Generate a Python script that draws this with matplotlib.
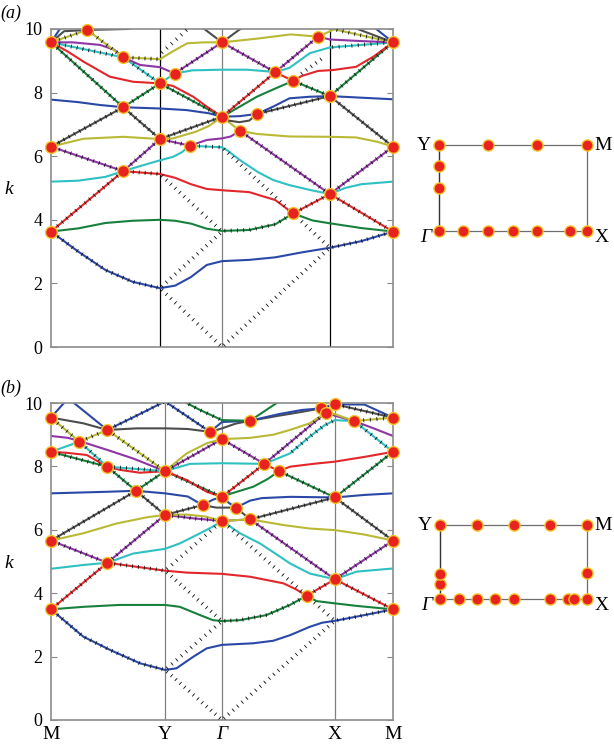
import numpy as np
import matplotlib.pyplot as plt
from matplotlib.patheffects import TickedStroke

plt.rcParams['font.family'] = ['Liberation Serif', 'DejaVu Serif']

# -----------------------------
# Data
# -----------------------------
# symmetry points along M-Y-Gamma-X-M (path units, M-Y = 1)
ka_sym = [0, 1.0, 1.57, 2.56, 3.14]
kb_sym = [0, 1.0, 1.5, 2.49, 3.0]
sym_labels = ['M', 'Y', 'Γ', 'X', 'M']

# panel (a) bands, lowest first: (k, frequency)
a1 = [(0, 3.63), (0.25, 3.0), (0.5, 2.42), (0.75, 2.05), (1.0, 1.85), (1.14, 1.93), (1.285, 2.2),
      (1.43, 2.58), (1.57, 2.70), (1.82, 2.74), (2.06, 2.82), (2.31, 2.98), (2.56, 3.12), (2.85, 3.33), (3.14, 3.63)]
a2 = [(0, 3.63), (0.25, 3.73), (0.5, 3.9), (0.75, 3.97), (1.0, 4.0), (1.14, 3.97), (1.285, 3.88), (1.43, 3.72),
      (1.57, 3.65), (1.82, 3.68), (2.06, 3.86), (2.223, 4.2), (2.4, 3.98), (2.56, 3.89), (2.85, 3.74), (3.14, 3.63)]
a3 = [(0, 3.63), (0.663, 5.53), (1.0, 5.44), (1.14, 5.32), (1.285, 5.12), (1.43, 4.97), (1.57, 4.93),
      (1.82, 4.87), (2.06, 4.62), (2.223, 4.2), (2.56, 4.81), (3.14, 3.63)]
a4 = [(0, 5.2), (0.25, 5.23), (0.5, 5.35), (0.663, 5.53), (0.83, 5.7), (1.0, 5.87), (1.12, 5.98), (1.2, 6.12),
      (1.275, 6.33), (1.57, 6.28), (1.62, 6.18), (1.734, 5.88), (1.9, 5.5), (2.04, 5.25), (2.19, 5.09),
      (2.376, 4.94), (2.56, 4.81), (2.7, 5.0), (2.85, 5.12), (3.14, 5.2)]
a5 = [(0, 6.3), (0.663, 5.53), (1.0, 6.54), (1.275, 6.33), (1.43, 6.51), (1.57, 6.56), (1.65, 6.62),
      (1.734, 6.8), (2.56, 4.81), (3.14, 6.3)]
a6 = [(0, 6.3), (0.3, 6.55), (0.663, 6.61), (1.0, 6.54), (1.12, 6.56), (1.33, 6.77), (1.45, 6.95), (1.57, 7.24),
      (1.734, 6.8), (1.89, 6.7), (2.19, 6.62), (2.56, 6.61), (2.8, 6.59), (3.0, 6.45), (3.14, 6.3)]
a7 = [(0, 6.3), (0.663, 7.54), (1.0, 6.54), (1.57, 7.24), (1.63, 7.12), (1.73, 7.07), (1.82, 7.12),
      (1.893, 7.33), (2.56, 7.89), (3.14, 6.3)]
a8 = [(0, 7.78), (0.25, 7.7), (0.45, 7.61), (0.663, 7.54), (1.0, 7.5), (1.245, 7.45), (1.45, 7.35), (1.57, 7.24),
      (1.734, 7.26), (1.893, 7.33), (2.04, 7.56), (2.19, 7.82), (2.376, 7.87), (2.56, 7.89), (2.85, 7.84), (3.14, 7.79)]
a9 = [(0, 9.58), (0.663, 7.54), (1.0, 8.29), (1.57, 7.24), (1.734, 7.56), (1.89, 7.87), (2.06, 8.13),
      (2.223, 8.37), (2.56, 7.89), (3.14, 9.58)]
a10 = [(0, 9.58), (0.15, 9.3), (0.3, 8.97), (0.54, 8.5), (0.755, 8.34), (1.0, 8.29), (1.12, 8.21), (1.306, 7.87),
       (1.43, 7.56), (1.57, 7.24), (2.058, 8.64), (2.223, 8.37), (2.3, 8.52), (2.45, 8.68), (2.59, 8.71),
       (2.8, 8.81), (2.96, 9.13), (3.14, 9.58)]
a11 = [(0, 9.58), (0.663, 9.11), (1.0, 8.29), (1.135, 8.6), (1.3, 8.7), (1.57, 8.72), (1.8, 8.72), (1.95, 8.68),
       (2.058, 8.64), (2.19, 8.78), (2.376, 9.24), (2.56, 9.42), (3.14, 9.58)]
a12 = [(0, 9.58), (0.2, 9.58), (0.45, 9.5), (0.58, 9.35), (0.663, 9.11), (0.817, 8.87), (1.0, 8.8), (1.135, 8.6),
       (1.57, 9.58), (2.058, 8.64), (2.452, 9.76), (2.56, 9.67), (2.85, 9.62), (3.14, 9.58)]
a13 = [(0, 9.58), (0.333, 9.97), (0.663, 9.11), (1.0, 9.05), (1.12, 9.3), (1.25, 9.55), (1.4, 9.58), (1.57, 9.58),
       (1.9, 9.7), (2.2, 9.83), (2.452, 9.76), (2.6, 9.99), (3.14, 9.58)]
a14 = [(0, 9.58), (0.12, 9.93), (0.333, 9.97), (0.7, 10.0), (1.0, 10.2), (1.4, 10.02), (1.57, 9.58),
       (1.73, 9.98), (1.9, 10.3), (2.5, 10.4), (2.8, 10.02), (3.14, 9.58)]
a15 = [(0, 9.58), (0.1, 10.1), (1.5, 10.6), (2.95, 10.1), (3.14, 9.58)]

# panel (b) bands
b1 = [(0, 3.49), (0.283, 2.63), (0.518, 2.21), (0.78, 1.79), (1.0, 1.58), (1.1, 1.63), (1.25, 2.0), (1.366, 2.26),
      (1.5, 2.37), (1.775, 2.42), (1.95, 2.5), (2.1, 2.68), (2.27, 2.94), (2.38, 3.07), (2.49, 3.13), (2.68, 3.26), (3.0, 3.49)]
b2 = [(0, 3.49), (0.283, 3.57), (0.6, 3.63), (1.0, 3.63), (1.13, 3.57), (1.307, 3.31), (1.42, 3.15), (1.5, 3.12),
      (1.658, 3.15), (1.89, 3.31), (2.096, 3.63), (2.243, 3.92), (2.33, 3.75), (2.49, 3.68), (2.68, 3.6), (3.0, 3.49)]
b3 = [(0, 3.49), (0.494, 4.96), (1.0, 4.71), (1.19, 4.65), (1.5, 4.61), (1.746, 4.52), (2.04, 4.31),
      (2.15, 4.12), (2.243, 3.92), (2.49, 4.44), (3.0, 3.49)]
b4 = [(0, 4.77), (0.283, 4.89), (0.494, 4.96), (0.72, 5.25), (1.0, 5.4), (1.13, 5.57), (1.307, 5.89), (1.42, 6.1),
      (1.5, 6.28), (1.658, 5.89), (1.833, 5.57), (2.01, 5.15), (2.096, 4.94), (2.27, 4.62), (2.49, 4.44),
      (2.68, 4.68), (3.0, 4.78)]
b5 = [(0, 5.66), (0.494, 4.96), (1.0, 6.47), (1.25, 6.36), (1.5, 6.28), (1.746, 6.33), (2.49, 4.44), (3.0, 5.66)]
b6 = [(0, 5.66), (0.283, 5.89), (0.576, 6.2), (0.85, 6.4), (1.0, 6.47), (1.19, 6.48), (1.35, 6.42), (1.5, 6.28),
      (1.6, 6.3), (1.746, 6.33), (2.04, 6.15), (2.27, 6.04), (2.49, 5.99), (2.75, 5.85), (3.0, 5.66)]
b7 = [(0, 5.66), (0.746, 7.23), (1.0, 6.47), (1.33, 6.78), (1.45, 6.7), (1.623, 6.7), (1.746, 6.33),
      (2.49, 7.02), (3.0, 5.66)]
b8 = [(0, 7.15), (0.494, 7.2), (0.746, 7.23), (1.0, 7.15), (1.2, 7.05), (1.33, 6.78), (1.42, 6.95), (1.5, 7.04),
      (1.56, 6.85), (1.623, 6.7), (1.746, 6.92), (1.85, 7.0), (2.1, 7.04), (2.49, 7.02), (2.75, 7.1), (3.0, 7.15)]
b9 = [(0, 8.46), (0.494, 7.99), (0.746, 7.23), (1.0, 7.85), (1.5, 7.04), (1.54, 7.1), (1.775, 7.36), (1.9, 7.6),
      (2.0, 7.85), (2.49, 7.02), (3.0, 8.46)]
b10 = [(0, 8.46), (0.137, 8.43), (0.313, 8.36), (0.494, 7.99), (0.605, 7.89), (0.78, 7.8), (1.0, 7.85),
       (1.19, 7.57), (1.366, 7.2), (1.5, 7.04), (1.871, 8.08), (2.0, 7.85), (2.096, 7.99), (2.3, 8.08),
       (2.49, 8.15), (2.75, 8.3), (3.0, 8.46)]
b11 = [(0, 8.46), (0.249, 8.78), (0.494, 7.99), (1.0, 7.85), (1.22, 8.08), (1.5, 8.1), (1.871, 8.08),
       (2.096, 8.41), (2.27, 8.94), (2.4, 9.3), (2.49, 9.46), (2.66, 9.43), (3.0, 8.46)]
b12 = [(0, 8.96), (0.15, 8.9), (0.249, 8.8), (0.494, 8.52), (0.72, 8.25), (1.0, 7.85), (1.5, 8.86),
       (1.871, 8.08), (2.41, 9.69), (2.49, 9.6), (2.66, 9.43), (2.83, 9.2), (3.0, 8.96)]
b13 = [(0, 9.54), (0.249, 8.78), (0.494, 9.15), (1.0, 7.85), (1.19, 8.41), (1.366, 8.73), (1.5, 8.86),
       (1.746, 8.9), (1.95, 9.0), (2.096, 9.15), (2.27, 9.36), (2.41, 9.69), (2.49, 9.65), (2.66, 9.43), (3.0, 9.54)]
b14 = [(0, 9.54), (0.283, 9.36), (0.494, 9.15), (0.75, 9.2), (1.0, 9.2), (1.2, 9.18), (1.395, 9.09), (1.5, 9.2),
       (1.62, 9.35), (1.746, 9.44), (2.0, 9.6), (2.2, 9.72), (2.366, 9.83), (2.49, 9.96), (3.0, 9.54)]
b15 = [(0, 9.54), (0.15, 10.15), (0.494, 9.15), (0.75, 9.6), (1.0, 10.05), (1.395, 9.09), (1.5, 9.4),
       (1.746, 9.44), (2.0, 9.65), (2.2, 9.78), (2.366, 9.83), (2.49, 9.96), (2.75, 9.95), (3.0, 9.54)]
b16 = [(0.9, 10.6), (1.19, 10.0), (1.307, 9.78), (1.5, 9.46), (1.746, 9.44), (1.98, 10.0), (2.2, 10.4),
       (2.49, 10.05), (2.8, 10.1), (3.0, 10.3)]

# band segments lying on the folded light lines (band, k from, k to)
ticks_a = [(a1, 0, 1.0), (a1, 2.56, 3.14), (a2, 1.57, 2.223), (a3, 0, 1.0), (a3, 2.223, 3.14),
           (a4, 1.275, 1.57), (a5, 0, 1.275), (a5, 1.734, 3.14), (a7, 0, 1.57), (a7, 1.893, 3.14),
           (a9, 0, 1.57), (a9, 2.223, 3.14), (a10, 1.57, 2.058), (a11, 0, 1.0), (a11, 2.56, 3.14),
           (a12, 1.135, 2.452), (a13, 0, 1.0), (a13, 2.6, 3.14)]
ticks_b = [(b1, 0, 1.0), (b1, 2.49, 3.0), (b2, 1.5, 2.243), (b3, 0, 1.0), (b3, 2.243, 3.0),
           (b5, 0, 1.5), (b5, 1.746, 3.0), (b7, 0, 1.33), (b7, 1.746, 3.0), (b9, 0, 1.5), (b9, 2.0, 3.0),
           (b10, 1.5, 1.871), (b11, 0.249, 1.0), (b11, 2.096, 2.49), (b11, 2.66, 3.0), (b12, 1.0, 2.41),
           (b13, 0, 1.0), (b13, 2.66, 3.0), (b14, 2.49, 3.0), (b15, 0.494, 1.395), (b16, 1.19, 1.5)]

# free light-line pieces
light_a = [[(1.57, 0), (1.0, 1.85)], [(1.0, 1.85), (1.57, 3.63)], [(1.0, 5.44), (1.57, 3.63)],
           [(1.57, 0), (2.56, 3.12)], [(2.56, 3.12), (1.57, 6.28)], [(1.0, 9.2), (1.35, 10.3)],
           [(2.28, 8.55), (2.5, 9.1)]]
light_b = [[(1.5, 0), (1.0, 1.58)], [(1.0, 1.58), (1.5, 3.12)], [(1.0, 4.71), (1.5, 3.12)],
           [(1.5, 0), (2.49, 3.13)], [(2.49, 3.13), (1.5, 6.28)], [(1.0, 4.71), (1.5, 6.28)]]

# degenerate points (red dots)
dots_a_k = [0, 0, 0, 0.333, 0.663, 0.663, 0.663, 1.0, 1.0, 1.135, 1.275, 1.57, 1.57, 1.734, 1.893,
            2.058, 2.223, 2.223, 2.452, 2.56, 2.56, 3.14, 3.14, 3.14]
dots_a_w = [3.63, 6.3, 9.58, 9.97, 5.53, 7.54, 9.11, 6.54, 8.29, 8.6, 6.33, 7.24, 9.58, 6.8, 7.33,
            8.64, 4.2, 8.37, 9.76, 4.81, 7.89, 3.63, 6.3, 9.58]
dots_b_k = [0, 0, 0, 0, 0.249, 0.494, 0.494, 0.494, 0.746, 1.0, 1.0, 1.33, 1.395, 1.5, 1.5, 1.5,
            1.623, 1.746, 1.746, 1.871, 2.0, 2.243, 2.366, 2.41, 2.49, 2.49, 2.49, 2.66, 3.0, 3.0, 3.0, 3.0]
dots_b_w = [3.49, 5.66, 8.46, 9.54, 8.78, 4.96, 7.99, 9.15, 7.23, 6.47, 7.85, 6.78, 9.09, 6.28, 7.04, 8.86,
            6.70, 6.33, 9.44, 8.08, 7.85, 3.92, 9.83, 9.69, 4.44, 7.02, 9.96, 9.43, 3.49, 5.66, 8.46, 9.54]

# Brillouin zone sketches: height of rectangle and dot positions (kx, ky)
bz_a_h = 0.581
bz_a_x = [0, 0.331, 0.662, 1.0, 0, 0, 0, 0.165, 0.331, 0.498, 0.662, 0.888, 1.0]
bz_a_y = [0.581, 0.581, 0.581, 0.581, 0.289, 0.439, 0, 0, 0, 0, 0, 0, 0]
bz_b_h = 0.503
bz_b_x = [0, 0.252, 0.5, 0.748, 1.0, 0, 0, 1.0, 0, 0.127, 0.252, 0.376, 0.5, 0.748, 0.872, 0.91, 1.0]
bz_b_y = [0.503, 0.503, 0.503, 0.503, 0.503, 0.102, 0.170, 0.175, 0, 0, 0, 0, 0, 0, 0, 0, 0]

bands_a = [a1, a2, a3, a4, a5, a6, a7, a8, a9, a10, a11, a12, a13, a14, a15]
bands_b = [b1, b2, b3, b4, b5, b6, b7, b8, b9, b10, b11, b12, b13, b14, b15, b16]

colors = ['#2a48a6', '#17803d', '#e3262a', '#2fc0c2', '#8e35a6', '#b9b935', '#4d4d4d']
dot_face = '#e8231f'
dot_edge = '#f4c42c'

# light-line marks: short black ticks across the path
tick_fx = [TickedStroke(angle=90, spacing=4.2, length=0.28, linewidth=0.55, foreground='#111111'),
           TickedStroke(angle=-90, spacing=4.2, length=0.28, linewidth=0.55, foreground='#111111')]


def box(l, t, r, b):
    return [l / 614, 1 - b / 746, (r - l) / 614, (b - t) / 746]


def draw_bands(ax, bands, ticks, light, dk, dw, ksym, vline_colors):
    for i, band in enumerate(bands):
        k, w = zip(*band)
        ax.plot(k, w, color=colors[i % 7], lw=1.5, zorder=2, solid_joinstyle='round')
    for band, k0, k1 in ticks:
        seg = [p for p in band if k0 - 1e-6 <= p[0] <= k1 + 1e-6]
        k, w = zip(*seg)
        ax.plot(k, w, color='k', lw=0.6, zorder=3, path_effects=tick_fx)
    for seg in light:
        k, w = zip(*seg)
        ax.plot(k, w, color='k', lw=0.6, zorder=3, path_effects=tick_fx)
    ax.plot(dk, dw, 'o', ms=8.5, mfc=dot_face, mec=dot_edge, mew=1.0, zorder=5, clip_on=False)

    for x, c in zip(ksym[1:4], vline_colors):
        ax.axvline(x, color=c, lw=0.9, zorder=1)
    ax.set_xlim(ksym[0], ksym[-1])
    ax.set_ylim(0, 10)
    ax.set_yticks([0, 2, 4, 6, 8, 10])
    ax.set_xticks(ksym)
    ax.tick_params(axis='y', direction='in', length=4, width=0.8, color='#888888',
                   right=True, labelsize=13, pad=6)
    ax.tick_params(axis='x', length=0, labelsize=14, pad=4)
    for s in ax.spines.values():
        s.set_color('#8c8c8c')
        s.set_linewidth(1.2)


def draw_bz(ax, h, bx, by, span):
    m = 20 / span
    ax.plot([0, 1, 1, 0, 0], [0, 0, h, h, 0], color='#6e6e6e', lw=0.9, zorder=1)
    ax.plot([0, 0], [0, h], color='#333333', lw=0.9, zorder=1)
    ax.plot(bx, by, 'o', ms=8, mfc=dot_face, mec=dot_edge, mew=1.0, zorder=3, clip_on=False)
    ax.text(-0.055, h, 'Y', ha='right', va='center', fontsize=14)
    ax.text(1.05, h, 'M', ha='left', va='center', fontsize=14)
    ax.text(-0.055, -0.045, 'Γ', ha='right', va='center', fontsize=14, style='italic')
    ax.text(1.05, -0.045, 'X', ha='left', va='center', fontsize=14)
    ax.set_xlim(-m, 1 + m)
    ax.set_ylim(-m, h + m)
    ax.axis('off')


fig = plt.figure(figsize=(6.14, 7.46), dpi=100)

# -----------------------------
# Panel (a)
# -----------------------------
ax_a = fig.add_axes(box(51, 29, 393, 347))
draw_bands(ax_a, bands_a, ticks_a, light_a, dots_a_k, dots_a_w, ka_sym, ['k', '#808080', 'k'])
ax_a.set_xticklabels([])
fig.text(0.0, 1 - 13 / 746, '(a)', fontsize=13, style='italic', va='center')
fig.text(4 / 614, 1 - 189 / 746, 'k', fontsize=14, style='italic', va='center')

bz_a = fig.add_axes(box(419, 125, 607, 251))
draw_bz(bz_a, bz_a_h, bz_a_x, bz_a_y, 148)

# -----------------------------
# Panel (b)
# -----------------------------
ax_b = fig.add_axes(box(51, 403, 393, 720))
draw_bands(ax_b, bands_b, ticks_b, light_b, dots_b_k, dots_b_w, kb_sym, ['#808080', '#808080', '#808080'])
ax_b.set_xticklabels(sym_labels)
ax_b.get_xticklabels()[2].set_style('italic')
fig.text(0.0, 1 - 388 / 746, '(b)', fontsize=13, style='italic', va='center')
fig.text(4 / 614, 1 - 564 / 746, 'k', fontsize=14, style='italic', va='center')

bz_b = fig.add_axes(box(420, 505, 607, 619))
draw_bz(bz_b, bz_b_h, bz_b_x, bz_b_y, 147)

plt.savefig('out.png', dpi=100)
